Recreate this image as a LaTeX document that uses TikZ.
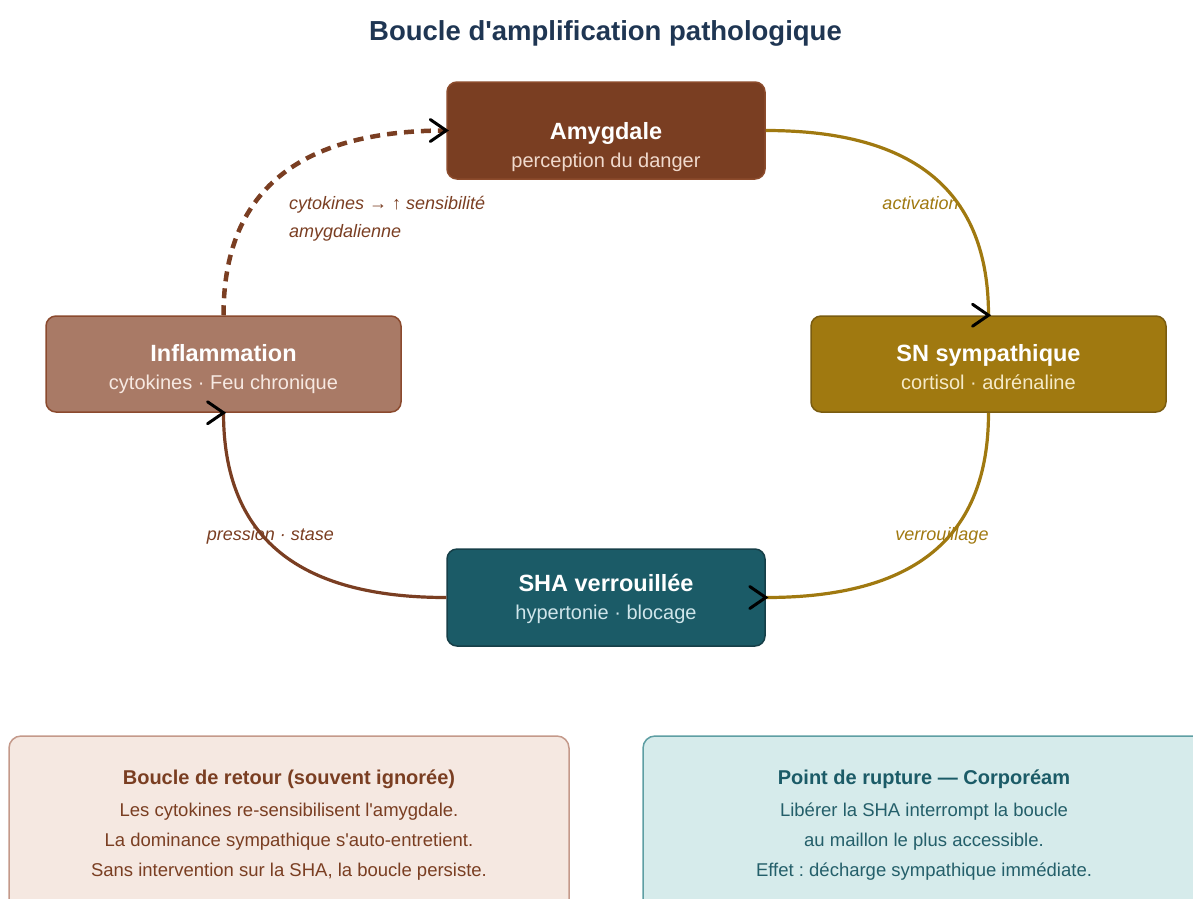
\documentclass[tikz,border=0pt]{standalone}
\usepackage{fontspec}
\setmainfont{Liberation Sans}[Ligatures=TeXOff]
\usetikzlibrary{calc}
\definecolor{navy}{HTML}{1F3653}
\definecolor{brown}{HTML}{7A3E22}
\definecolor{brownborder}{HTML}{8C4B2C}
\definecolor{gold}{HTML}{A07910}
\definecolor{goldborder}{HTML}{7A5C10}
\definecolor{inflfill}{HTML}{A97A66}
\definecolor{inflborder}{HTML}{8B4A2E}
\definecolor{teal}{HTML}{1B5B67}
\definecolor{tealborder}{HTML}{163F48}
\definecolor{amysub}{HTML}{F0D9CC}
\definecolor{snsub}{HTML}{F5EAC8}
\definecolor{inflsub}{HTML}{F7E9E2}
\definecolor{shasub}{HTML}{CFE5EA}
\definecolor{leftfill}{HTML}{F5E8E1}
\definecolor{leftborder}{HTML}{C4998A}
\definecolor{rightfill}{HTML}{D6EBEB}
\definecolor{rightborder}{HTML}{5E9EA3}
\definecolor{tealtext}{HTML}{245F6A}
\frenchspacing
\begin{document}
\begin{tikzpicture}[x=1pt,y=-1pt,
  box/.style={rectangle, rounded corners=10pt, line width=1.5pt, inner sep=0pt},
  ttl/.style={anchor=base, text=white, font=\fontsize{23.5}{28}\selectfont\bfseries},
  sub/.style={anchor=base, font=\fontsize{20}{24}\selectfont},
  lab/.style={anchor=base, font=\fontsize{18}{22}\selectfont\itshape},
  conn/.style={line width=3.2pt},
  chev/.pic={\draw[black, line width=3pt, line cap=round, line join=miter] (-16,-11) -- (0,0) -- (-16,11);},
  note/.style={rectangle, rounded corners=12pt, line width=1.5pt, inner sep=0pt, minimum height=194},
  ntitle/.style={anchor=base, font=\fontsize{20}{24}\selectfont\bfseries},
  ntext/.style={anchor=base, font=\fontsize{18.5}{22}\selectfont}
]
\path[use as bounding box] (0,0) rectangle (1193,898);
\clip (0,0) rectangle (1193,898);

% title
\node[anchor=base, text=navy, font=\fontsize{27.5}{32}\selectfont\bfseries] (title) at (605.5,40) {Boucle d'amplification pathologique};

% boxes
\node[box, fill=brown, draw=brownborder, minimum width=318, minimum height=97] (amy) at (606,130.5) {};
\node[box, fill=gold, draw=goldborder, minimum width=355, minimum height=96] (sn) at (988.5,364) {};
\node[box, fill=inflfill, draw=inflborder, minimum width=355, minimum height=96] (inf) at (223.5,364) {};
\node[box, fill=teal, draw=tealborder, minimum width=318, minimum height=97] (sha) at (606,597.5) {};

% connectors
\draw[conn, gold] (amy.east) .. controls +(150,0) and +(0,-123) .. (sn.north);
\draw[conn, gold] (sn.south) .. controls +(0,124) and +(150,0) .. (sha.east);
\draw[conn, brown] (sha.west) .. controls +(-149,0) and +(0,124) .. (inf.south);
\draw[brown, line width=4.5pt, dash pattern=on 10pt off 7pt] (inf.north) .. controls +(0,-123) and +(-149,0) .. (amy.west);

% box texts
\node[ttl] (amyT) at ($(amy.center)+(0,8.5)$) {Amygdale};
\node[sub, text=amysub] (amyS) at ($(amy.center)+(0,36.5)$) {perception du danger};
\node[ttl] (snT) at ($(sn.center)+(0,-2.5)$) {SN sympathique};
\node[sub, text=snsub] (snS) at ($(sn.center)+(0,25)$) {cortisol · adrénaline};
\node[ttl] (infT) at ($(inf.center)+(0,-2.5)$) {Inflammation};
\node[sub, text=inflsub] (infS) at ($(inf.center)+(0,25)$) {cytokines · Feu chronique};
\node[ttl] (shaT) at ($(sha.center)+(0,-6.5)$) {SHA verrouillée};
\node[sub, text=shasub] (shaS) at ($(sha.center)+(0,21.5)$) {hypertonie · blocage};

% arrowheads (all drawn pointing right, as in the reference)
\pic at (amy.west) {chev};
\pic at (sn.north) {chev};
\pic at (sha.east) {chev};
\pic at (inf.south) {chev};

% connector labels
\node[lab, text=gold] (lact) at (920.5,209.5) {activation};
\node[lab, text=gold] (lver) at (942,540) {verrouillage};
\node[lab, text=brown] (lpre) at (270.5,540) {pression · stase};
\node[lab, text=brown, anchor=base west, inner xsep=0pt] (lcy1) at (289,209.5) {cytokines → ↑ sensibilité};
\node[lab, text=brown, anchor=base west, inner xsep=0pt] (lcy2) at (289,237.5) {amygdalienne};

% bottom notes
\node[note, fill=leftfill, draw=leftborder, minimum width=560] (nl) at (289,833) {};
\node[note, fill=rightfill, draw=rightborder, minimum width=562] (nr) at (924,833) {};

\node[ntitle, text=brown] (nlT) at (289,784) {Boucle de retour (souvent ignorée)};
\node[ntext, text=brown] (nl1) at (289,816.5) {Les cytokines re-sensibilisent l'amygdale.};
\node[ntext, text=brown] (nl2) at (289,846.5) {La dominance sympathique s'auto-entretient.};
\node[ntext, text=brown] (nl3) at (289,876.5) {Sans intervention sur la SHA, la boucle persiste.};

\node[ntitle, text=teal] (nrT) at (924,784) {Point de rupture — Corporéam};
\node[ntext, text=tealtext] (nr1) at (924,816.5) {Libérer la SHA interrompt la boucle};
\node[ntext, text=tealtext] (nr2) at (924,846.5) {au maillon le plus accessible.};
\node[ntext, text=tealtext] (nr3) at (924,876.5) {Effet : décharge sympathique immédiate.};
\end{tikzpicture}
\end{document}
